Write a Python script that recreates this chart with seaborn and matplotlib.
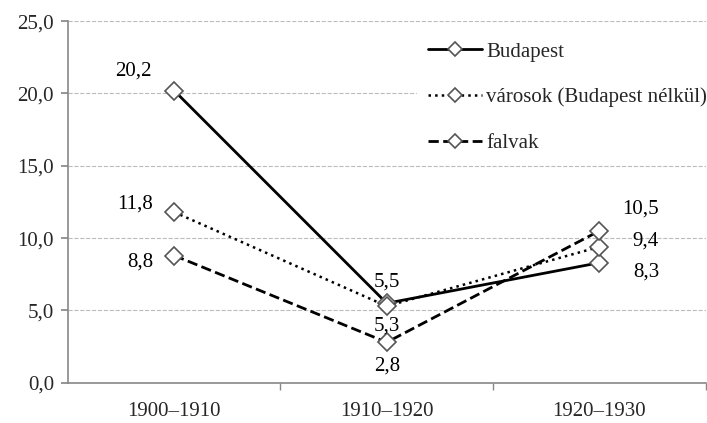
import numpy as np
import pandas as pd
import matplotlib
matplotlib.use("Agg")
import matplotlib.pyplot as plt
import seaborn as sns

periods = ["1900–1910", "1910–1920", "1920–1930"]
budapest = [20.2, 5.5, 8.3]
varosok = [11.8, 5.3, 9.4]
falvak = [8.8, 2.8, 10.5]

series_names = ["Budapest", "városok (Budapest nélkül)", "falvak"]
series_values = [budapest, varosok, falvak]
line_styles = ["-", ":", "--"]

# label offsets (points) and alignment per series per point
label_offsets = [
    [(-16, 14, "right"), (0, 15, "center"), (43, -7, "right")],
    [(-15, 6, "right"), (0, -14, "center"), (43, 4, "right")],
    [(-15, -5, "right"), (0, -17, "center"), (43, 16, "right")],
]

sns.set_theme(style="white")
plt.rcParams["font.family"] = ["Liberation Serif", "DejaVu Serif"]

fig, ax = plt.subplots(figsize=(7.07, 4.23), dpi=100)
fig.subplots_adjust(left=0.096, right=0.998, top=0.95, bottom=0.095)

x = np.arange(len(periods))
for name, vals, ls, offs in zip(series_names, series_values, line_styles, label_offsets):
    df = pd.DataFrame({"x": x, "y": vals})
    sns.lineplot(data=df, x="x", y="y", ax=ax, color="black", linestyle=ls,
                 linewidth=2 if ls != ":" else 1.8, marker="D", markersize=9.5,
                 markerfacecolor="white", markeredgecolor="#555555",
                 markeredgewidth=1.2, label=name)
    for xi, v, (dx, dy, ha) in zip(x, vals, offs):
        ax.annotate(f"{v:.1f}".replace(".", ","), (xi, v), xytext=(dx, dy),
                    textcoords="offset points", ha=ha, va="center",
                    fontsize=15, color="black")

ax.set_xlim(-0.5, 2.5)
ax.set_ylim(0, 25)
ax.set_yticks(np.arange(0, 26, 5))
ax.set_yticklabels([f"{v:.1f}".replace(".", ",") for v in np.arange(0, 26, 5)])
ax.set_xticks(x)
ax.set_xticklabels(periods)
ax.set_xticks([0.5, 1.5, 2.5], minor=True)
ax.tick_params(axis="x", which="major", length=0, pad=14, labelsize=15)
ax.tick_params(axis="x", which="minor", length=5, color="#888888", direction="out", bottom=True)
ax.tick_params(axis="y", length=5, color="#888888", direction="out", left=True, labelsize=15, pad=5)
ax.set_xlabel("")
ax.set_ylabel("")

ax.yaxis.grid(True, linestyle="--", color="#bbbbbb", linewidth=0.8)
ax.set_axisbelow(True)
for side in ["top", "right"]:
    ax.spines[side].set_visible(False)
for side in ["left", "bottom"]:
    ax.spines[side].set_color("#888888")
    ax.spines[side].set_linewidth(1.2)

leg = ax.legend(loc="upper right", bbox_to_anchor=(1.035, 1.0), frameon=True,
                fontsize=15, handlelength=2.6, handletextpad=0.2,
                labelspacing=1.25, borderpad=0.5, markerscale=0.8)
leg.get_frame().set_facecolor("white")
leg.get_frame().set_edgecolor("white")
leg.get_frame().set_alpha(1)

plt.savefig("out.png", dpi=100)
